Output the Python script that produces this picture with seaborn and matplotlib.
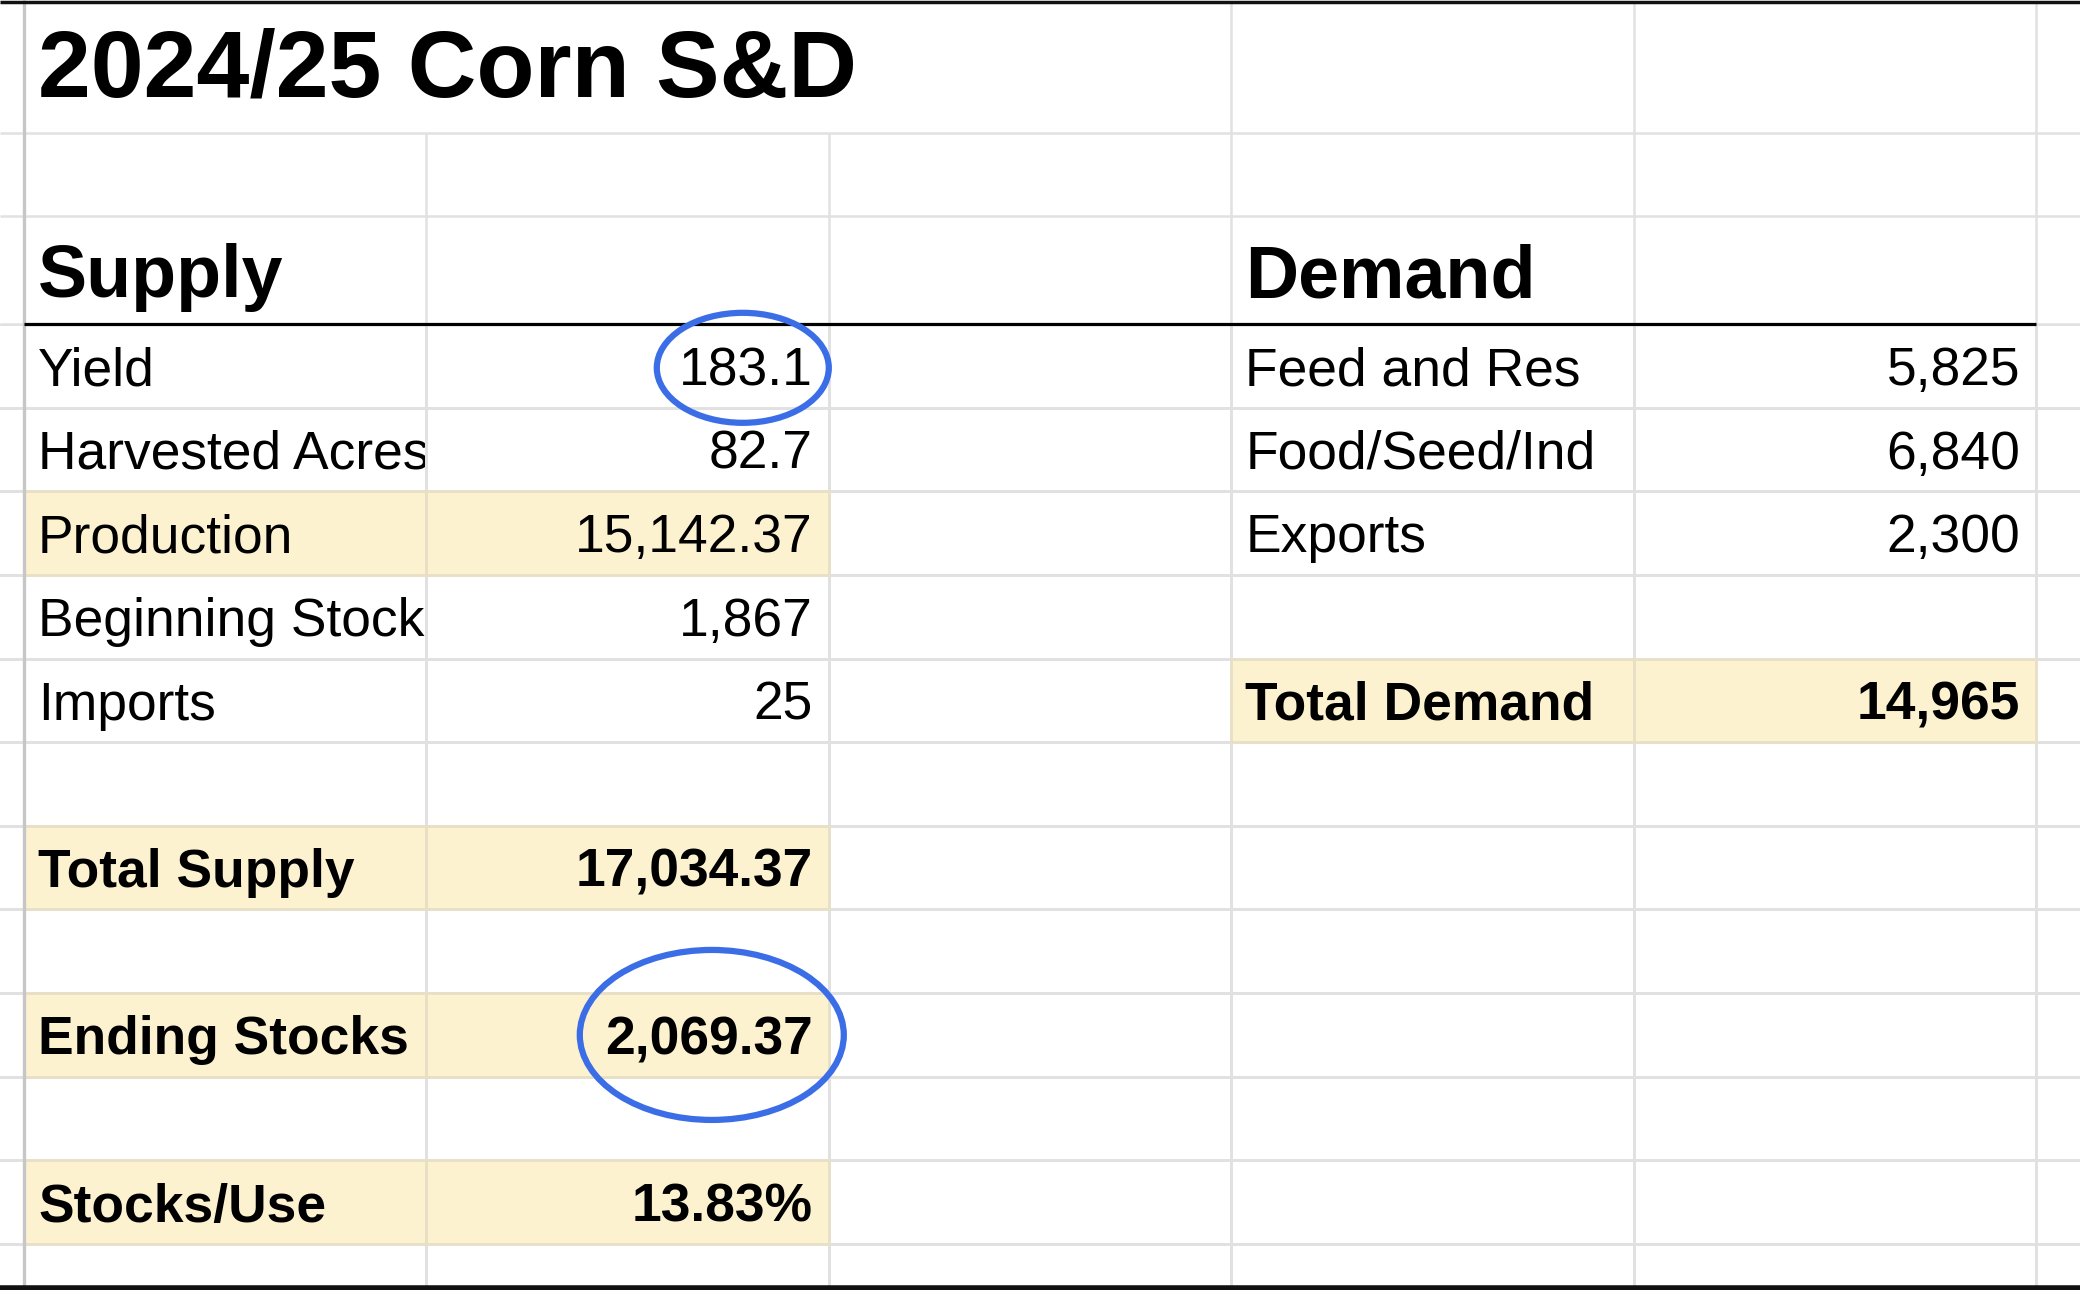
import numpy as np
import pandas as pd
import matplotlib
matplotlib.use("Agg")
import matplotlib.pyplot as plt
import seaborn as sns
from matplotlib.colors import ListedColormap
from matplotlib.patches import Ellipse, Rectangle
from matplotlib.transforms import Bbox, TransformedBbox

# ---------------- data ----------------
title = "2024/25 Corn S&D"
supply_header = "Supply"
demand_header = "Demand"

supply_labels = ["Yield", "Harvested Acres", "Production", "Beginning Stocks",
                 "Imports", "Total Supply", "Ending Stocks", "Stocks/Use"]
supply_values = [183.1, 82.7, 15142.37, 1867, 25, 17034.37, 2069.37, 13.83]
supply_formats = ["{:,.1f}", "{:,.1f}", "{:,.2f}", "{:,.0f}", "{:,.0f}",
                  "{:,.2f}", "{:,.2f}", "{:.2f}%"]
supply_rows = [4, 5, 6, 7, 8, 10, 12, 14]
supply_bold = [False, False, False, False, False, True, True, True]
supply_highlight = [False, False, True, False, False, True, True, True]

demand_labels = ["Feed and Res", "Food/Seed/Ind", "Exports", "Total Demand"]
demand_values = [5825, 6840, 2300, 14965]
demand_formats = ["{:,.0f}", "{:,.0f}", "{:,.0f}", "{:,.0f}"]
demand_rows = [4, 5, 6, 8]
demand_bold = [False, False, False, True]
demand_highlight = [False, False, False, True]

circled = ["Yield", "Ending Stocks"]

# ---------------- layout ----------------
W, H = 2080, 1290
COL0, COLW = 24.0, 402.4          # left edge of column A, column width
ROW4_TOP, ROWH = 324.0, 83.64     # top of sheet row 4, body row height
TOP_ROWS = {1: (3, 133), 2: (133, 216), 3: (216, 324)}
GRID = "#e1e1e1"
HL = "#fdf2d0"
HL_EDGE = "#e9e0c4"
BLUE = "#3b6ee6"
FONT = ["Liberation Sans", "DejaVu Sans"]
BODY_FS = 38.4
HEAD_FS = 53
TITLE_FS = 68.5
# circle annotation geometry: (width, height, dx from value right edge, dy from row centre)
CIRCLE_GEOM = {"Yield": (172, 110, -70, 2), "Ending Stocks": (264, 170, -101, 0)}


def col_x(c):  # c = 0 for A, 1 for B ...
    return COL0 + c * COLW


def row_bounds(r):
    if r in TOP_ROWS:
        return TOP_ROWS[r]
    t = ROW4_TOP + (r - 4) * ROWH
    return t, t + ROWH


sns.set_style("white")
plt.rcParams["font.family"] = FONT
plt.rcParams["text.color"] = "black"

fig = plt.figure(figsize=(W / 100, H / 100), dpi=100)
fig.patch.set_facecolor("white")

# ---------- body grid via seaborn heatmap ----------
n_body_rows, n_cols = 12, 7        # sheet rows 4..15 ; stub + A..E + F
hl = np.zeros((n_body_rows, n_cols))
for r, h in zip(supply_rows, supply_highlight):
    if h:
        hl[r - 4, 1:3] = 1
for r, h in zip(demand_rows, demand_highlight):
    if h:
        hl[r - 4, 4:6] = 1
grid_df = pd.DataFrame(hl)

ax_hm = fig.add_axes([0, 0, 1, (H - ROW4_TOP) / H])
sns.heatmap(grid_df, ax=ax_hm, cmap=ListedColormap(["#ffffff", HL]), vmin=0, vmax=1,
            cbar=False, linewidths=1.8, linecolor=GRID,
            xticklabels=False, yticklabels=False)
# slightly warmer borders around the shaded cells
for (i, j) in zip(*np.nonzero(hl)):
    ax_hm.add_patch(Rectangle((j, i), 1, 1, fill=False, edgecolor=HL_EDGE, lw=1.8, zorder=3))
ax_hm.set_xlim(1 - COL0 / COLW, 1 + (W - COL0) / COLW)
ax_hm.set_ylim((H - ROW4_TOP) / ROWH, 0)
ax_hm.axis("off")

# ---------- overlay in pixel coordinates ----------
ax = fig.add_axes([0, 0, 1, 1])
ax.set_xlim(0, W)
ax.set_ylim(H, 0)
ax.axis("off")
ax.patch.set_alpha(0)

lw_grid = 1.8
for r in (1, 2):
    ax.hlines(row_bounds(r)[1], 0, W, color=GRID, lw=lw_grid)
for c in (3, 4, 5):
    ax.vlines(col_x(c), row_bounds(1)[0], ROW4_TOP, color=GRID, lw=lw_grid)
for c in (1, 2):
    ax.vlines(col_x(c), row_bounds(2)[0], ROW4_TOP, color=GRID, lw=lw_grid)
ax.hlines(ROW4_TOP, 0, col_x(0), color=GRID, lw=lw_grid)
ax.hlines(ROW4_TOP, col_x(5), W, color=GRID, lw=lw_grid)
ax.vlines(col_x(0), 0, H, color="#c6c6c6", lw=2.4)
ax.hlines(ROW4_TOP - 0.5, col_x(0), col_x(5), color="black", lw=2.3)
ax.hlines(1.5, 0, W, color="#111111", lw=2.5)
ax.hlines(1287.5, 0, W, color="#111111", lw=4)

PAD_L, PAD_R, BASE = 14, 16, 22.5


def cell_text(r, c, s, bold=False, align="left", clip=False):
    top, bot = row_bounds(r)
    if align == "left":
        x, ha = col_x(c) + PAD_L, "left"
    else:
        x, ha = col_x(c + 1) - PAD_R, "right"
    t = ax.text(x, bot - BASE, s, ha=ha, va="baseline", fontsize=BODY_FS,
                fontweight="bold" if bold else "normal", family=FONT, color="black")
    if clip:
        bb = TransformedBbox(Bbox([[col_x(c), top], [col_x(c + 1) - 1, bot]]), ax.transData)
        t.set_clip_box(bb)
        t.set_clip_on(True)
    return t


ax.text(col_x(0) + PAD_L, 97, title, ha="left", va="baseline", fontsize=TITLE_FS,
        fontweight="bold", family=FONT, color="black")
ax.text(col_x(0) + PAD_L, 297, supply_header, ha="left", va="baseline", fontsize=HEAD_FS,
        fontweight="bold", family=FONT, color="black")
ax.text(col_x(3) + PAD_L, 297, demand_header, ha="left", va="baseline", fontsize=HEAD_FS,
        fontweight="bold", family=FONT, color="black")

for lab, v, f, r, b in zip(supply_labels, supply_values, supply_formats, supply_rows, supply_bold):
    cell_text(r, 0, lab, bold=b, clip=True)
    cell_text(r, 1, f.format(v), bold=b, align="right")
    if lab in circled:
        top, bot = row_bounds(r)
        w, h, dx, dy = CIRCLE_GEOM[lab]
        ax.add_patch(Ellipse((col_x(2) - PAD_R + dx, (top + bot) / 2 + dy), w, h,
                             fill=False, edgecolor=BLUE, lw=4.5, zorder=5))

for lab, v, f, r, b in zip(demand_labels, demand_values, demand_formats, demand_rows, demand_bold):
    cell_text(r, 3, lab, bold=b, clip=True)
    cell_text(r, 4, f.format(v), bold=b, align="right")

fig.savefig("out.png", dpi=100, facecolor="white")
